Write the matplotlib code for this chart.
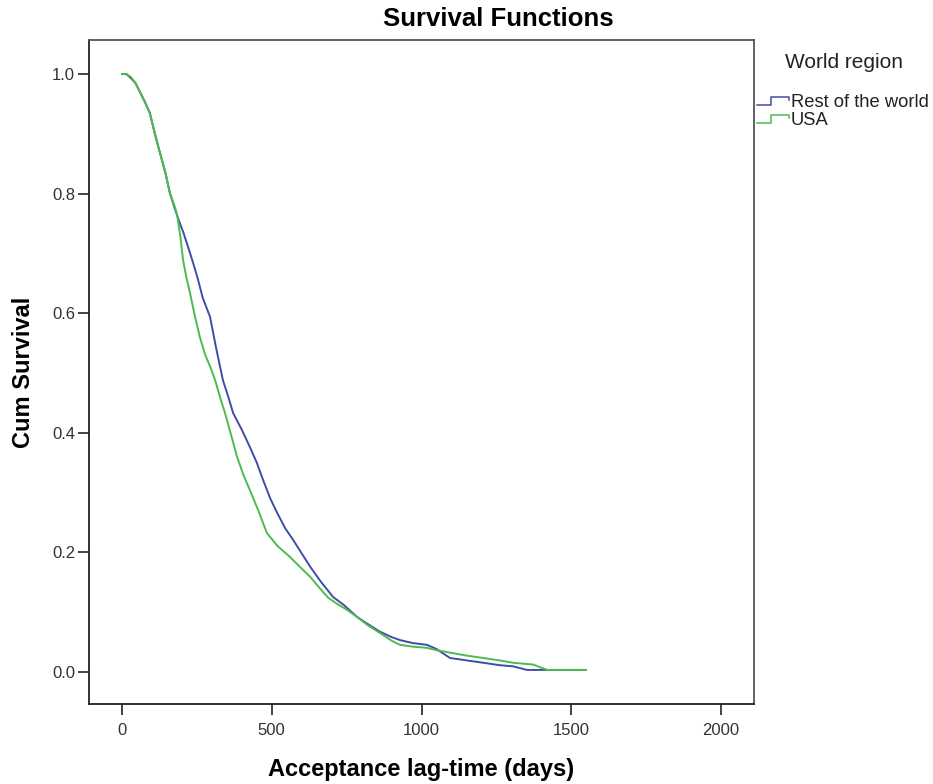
import matplotlib
matplotlib.use("Agg")
import matplotlib.pyplot as plt
from matplotlib.legend_handler import HandlerBase
from matplotlib.lines import Line2D

plt.rcParams['font.family'] = ['Liberation Sans', 'DejaVu Sans']

# ---- data ----
series_names = ["Rest of the world", "USA"]

rest_t = [0, 15, 30, 45, 60, 75, 93, 110, 127, 145, 160, 175, 190, 205, 227, 240, 254,
          270, 294, 315, 337, 355, 371, 400, 427, 450, 471, 495, 518, 545, 571, 600,
          628, 665, 705, 740, 784, 820, 861, 900, 928, 970, 1018, 1050, 1095, 1150,
          1206, 1260, 1306, 1352, 1549]
rest_s = [1.0, 1.0, 0.993, 0.985, 0.97, 0.955, 0.935, 0.90, 0.868, 0.835, 0.801, 0.777,
          0.755, 0.735, 0.701, 0.68, 0.656, 0.625, 0.594, 0.54, 0.488, 0.46, 0.433,
          0.405, 0.376, 0.35, 0.321, 0.29, 0.266, 0.24, 0.221, 0.198, 0.176, 0.15,
          0.125, 0.112, 0.092, 0.08, 0.067, 0.058, 0.053, 0.048, 0.045, 0.038, 0.023,
          0.019, 0.015, 0.011, 0.009, 0.003, 0.003]

usa_t = [0, 15, 30, 45, 60, 75, 93, 110, 127, 145, 160, 175, 184, 195, 204, 215, 227,
         244, 260, 278, 295, 311, 330, 344, 365, 384, 405, 427, 455, 484, 520, 561,
         595, 628, 660, 688, 720, 750, 784, 820, 861, 900, 928, 970, 1018, 1050,
         1095, 1150, 1206, 1260, 1306, 1373, 1419, 1549]
usa_s = [1.0, 1.0, 0.995, 0.985, 0.97, 0.955, 0.935, 0.90, 0.868, 0.835, 0.801, 0.78,
         0.765, 0.728, 0.689, 0.66, 0.634, 0.594, 0.56, 0.53, 0.51, 0.488, 0.455,
         0.433, 0.395, 0.36, 0.33, 0.304, 0.27, 0.232, 0.21, 0.192, 0.175, 0.159,
         0.14, 0.124, 0.113, 0.104, 0.092, 0.078, 0.065, 0.052, 0.045, 0.042, 0.04,
         0.036, 0.032, 0.027, 0.023, 0.019, 0.015, 0.012, 0.003, 0.003]

x_ticks = [0, 500, 1000, 1500, 2000]
y_ticks = [0.0, 0.2, 0.4, 0.6, 0.8, 1.0]

colors = ['#3e4ea6', '#4dbb4d']

W, H = 933, 784
fig = plt.figure(figsize=(W / 100, H / 100), dpi=100)
ax = fig.add_axes([89 / W, 1 - 704 / H, (754 - 89) / W, (704 - 40) / H])

l1, = ax.plot(rest_t, rest_s, color=colors[0], lw=1.4)
l2, = ax.plot(usa_t, usa_s, color=colors[1], lw=1.4)

ax.set_xlim(-110, 2110)
ax.set_ylim(-0.054, 1.057)
ax.set_xticks(x_ticks)
ax.set_xticklabels([str(v) for v in x_ticks])
ax.set_yticks(y_ticks)
ax.set_yticklabels([f"{v:.1f}" for v in y_ticks])
ax.tick_params(axis='both', direction='out', length=8, width=1.2, colors='#222222',
               labelsize=12, labelcolor='#333333')
ax.tick_params(axis='x', pad=6)
ax.tick_params(axis='y', pad=2)
for side in ['left', 'bottom']:
    ax.spines[side].set_color('#222222')
    ax.spines[side].set_linewidth(1.3)
for side in ['top', 'right']:
    ax.spines[side].set_color('#555555')
    ax.spines[side].set_linewidth(1.3)

ax.set_xlabel("Acceptance lag-time (days)", fontsize=17, fontweight='bold', labelpad=14)
ax.set_ylabel("Cum Survival", fontsize=17, fontweight='bold', labelpad=12)

fig.text(498 / W, 1 - 19 / H, "Survival Functions", fontsize=18.5, fontweight='bold',
         ha='center', va='center')


class StepHandler(HandlerBase):
    def create_artists(self, legend, orig_handle, xdescent, ydescent, width, height,
                       fontsize, trans):
        x0, y0 = -xdescent, -ydescent
        xs = [x0, x0 + 0.45 * width, x0 + 0.45 * width, x0 + width, x0 + width]
        ys = [y0 + 0.15 * height, y0 + 0.15 * height, y0 + 0.75 * height,
              y0 + 0.75 * height, y0 + 0.55 * height]
        ln = Line2D(xs, ys, color=orig_handle.get_color(), lw=1.1)
        ln.set_transform(trans)
        return [ln]


fig.text(844 / W, 1 - 63 / H, "World region", fontsize=15, ha='center', va='center',
         color='#222222')
leg = fig.legend([l1, l2], series_names, loc='upper left',
                 bbox_to_anchor=(757 / W, 1 - 94 / H), frameon=False,
                 fontsize=13.2, handlelength=1.75, handletextpad=0.1,
                 labelspacing=0.05, borderpad=0, borderaxespad=0,
                 handler_map={Line2D: StepHandler()})
for t in leg.get_texts():
    t.set_color('#222222')

fig.savefig("out.png", dpi=100)
